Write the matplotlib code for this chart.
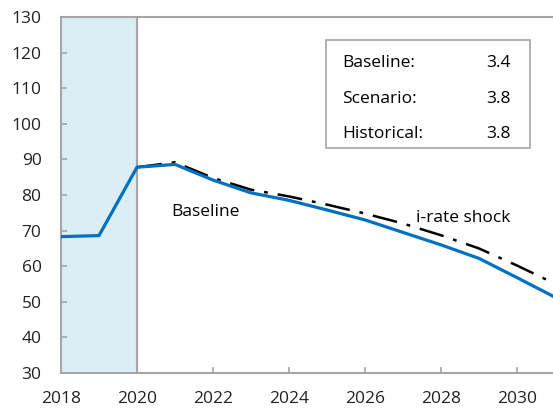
import matplotlib
matplotlib.use('Agg')
import matplotlib.pyplot as plt
from matplotlib.patches import Rectangle

# data
years = [2018, 2019, 2020, 2021, 2022, 2023, 2024, 2025, 2026, 2027, 2028, 2029, 2030, 2031]
baseline = [68.3, 68.6, 87.8, 88.6, 84.2, 80.6, 78.5, 75.8, 73.0, 69.5, 66.0, 62.2, 56.8, 51.3]
shock_years = [2020, 2021, 2022, 2023, 2024, 2025, 2026, 2027, 2028, 2029, 2030, 2031]
shock = [87.8, 89.2, 84.8, 81.5, 79.6, 77.3, 74.8, 72.0, 68.7, 65.0, 60.2, 55.1]
box_labels = ['Baseline:', 'Scenario:', 'Historical:']
box_values = ['3.4', '3.8', '3.8']

grey = '#A6A6A6'
plt.rcParams['font.family'] = ['Open Sans', 'DejaVu Sans']
plt.rcParams['font.size'] = 12.5

fig = plt.figure(figsize=(5.53, 4.09), dpi=100)
ax = fig.add_axes([61 / 553, 36 / 409, 1 - 61 / 553, 356 / 409])

# historical shading
ax.axvspan(2018, 2020, color='#DAEEF3', zorder=0)
ax.axvline(2020, color=grey, lw=1.5, zorder=1)

ax.plot(shock_years, shock, color='black', lw=1.8, dashes=(10, 4, 1.5, 4), zorder=3)
ax.plot(years, baseline, color='#0070C0', lw=2.3, zorder=4)

ax.text(2020.9, 75.2, 'Baseline', va='center', ha='left')
ax.text(2027.35, 73.5, 'i-rate shock', va='center', ha='left')

# info box
ax.add_patch(Rectangle((0.539, 0.632), 0.414, 0.303, transform=ax.transAxes,
                       fill=False, edgecolor=grey, lw=1.2, zorder=5))
for i, (lab, val) in enumerate(zip(box_labels, box_values)):
    yy = 0.87 - i * 0.1
    ax.text(0.572, yy, lab, transform=ax.transAxes, va='center', ha='left')
    ax.text(0.913, yy, val, transform=ax.transAxes, va='center', ha='right')

ax.set_xlim(2018, 2030.95)
ax.set_ylim(30, 130)
ax.set_yticks(range(30, 131, 10))
ax.set_xticks(range(2018, 2031, 2))

for s in ['left', 'bottom', 'top']:
    ax.spines[s].set_color(grey)
    ax.spines[s].set_linewidth(1.5)
ax.spines['right'].set_visible(False)
ax.tick_params(axis='both', direction='in', color=grey, width=1.2, length=4, labelcolor='#222222')
ax.tick_params(axis='y', pad=14)
ax.tick_params(axis='x', pad=13)

fig.savefig('out.png', dpi=100)
